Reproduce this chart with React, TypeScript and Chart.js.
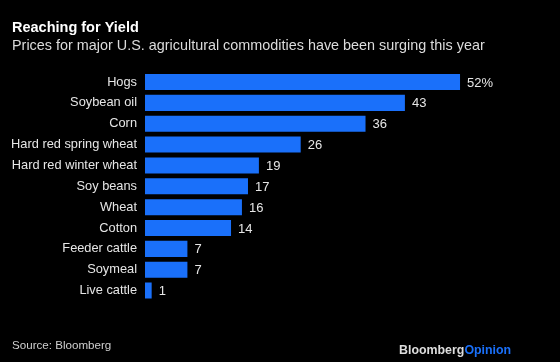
import React, { useEffect, useRef } from "react";
import { Chart, registerables } from "chart.js";

Chart.register(...registerables);

const categories = [
  "Hogs",
  "Soybean oil",
  "Corn",
  "Hard red spring wheat",
  "Hard red winter wheat",
  "Soy beans",
  "Wheat",
  "Cotton",
  "Feeder cattle",
  "Soymeal",
  "Live cattle",
];
const values = [52, 42.9, 36.4, 25.7, 18.8, 17, 16, 14.2, 7, 7, 1.1];
const valueLabels = ["52%", "43", "36", "26", "19", "17", "16", "14", "7", "7", "1"];

const titleText = "Reaching for Yield";
const subtitleText = "Prices for major U.S. agricultural commodities have been surging this year";
const sourceText = "Source: Bloomberg";

const FONT = "'Liberation Sans', Arial, Helvetica, sans-serif";

const overlay = {
  id: "overlay",
  afterDraw(chart: any) {
    const ctx = chart.ctx as CanvasRenderingContext2D;
    ctx.save();
    ctx.textBaseline = "alphabetic";
    ctx.textAlign = "left";
    ctx.fillStyle = "#ffffff";
    ctx.font = `bold 14.5px ${FONT}`;
    ctx.fillText(titleText, 12, 32);
    ctx.fillStyle = "#dcdcdc";
    ctx.font = `14.4px ${FONT}`;
    ctx.fillText(subtitleText, 12, 50);

    ctx.font = `11.6px ${FONT}`;
    ctx.fillStyle = "#cfcfcf";
    ctx.fillText(sourceText, 12, 349);

    ctx.font = `bold 12.4px ${FONT}`;
    ctx.fillStyle = "#dddddd";
    const b = "Bloomberg";
    ctx.fillText(b, 399, 353.5);
    const w = ctx.measureText(b).width;
    ctx.fillStyle = "#1a70fa";
    ctx.fillText("Opinion", 399 + w, 353.5);

    const meta = chart.getDatasetMeta(0);
    ctx.font = `13px ${FONT}`;
    ctx.fillStyle = "#e6e6e6";
    ctx.textBaseline = "middle";
    meta.data.forEach((el: any, i: number) => {
      ctx.fillText(valueLabels[i], el.x + 7, el.y + 1);
    });
    ctx.restore();
  },
};

export default function App() {
  const ref = useRef<HTMLCanvasElement | null>(null);
  useEffect(() => {
    document.body.style.margin = "0";
    document.body.style.background = "#000";
    const chart = new Chart(ref.current as HTMLCanvasElement, {
      type: "bar",
      data: {
        labels: categories,
        datasets: [
          {
            data: values,
            backgroundColor: "#1a70fa",
            borderWidth: 0,
            barPercentage: 0.77,
            categoryPercentage: 1,
          },
        ],
      },
      options: {
        indexAxis: "y",
        animation: false,
        responsive: false,
        maintainAspectRatio: false,
        layout: { padding: { top: 71.6, bottom: 61, left: 0, right: 51.5 } },
        plugins: {
          legend: { display: false },
          tooltip: { enabled: false },
          title: { display: false },
        },
        scales: {
          x: { display: false, min: 0, max: 60 },
          y: {
            grid: { display: false, drawTicks: false },
            border: { display: false },
            ticks: {
              color: "#e6e6e6",
              font: { family: FONT, size: 12.8 },
              padding: 8,
              autoSkip: false,
            },
            afterFit(scale: any) {
              scale.width = 145;
            },
          },
        },
      },
      plugins: [overlay],
    });
    return () => chart.destroy();
  }, []);
  return (
    <div style={{ width: 560, height: 362, background: "#000" }}>
      <canvas ref={ref} width={560} height={362} style={{ display: "block" }} />
    </div>
  );
}
